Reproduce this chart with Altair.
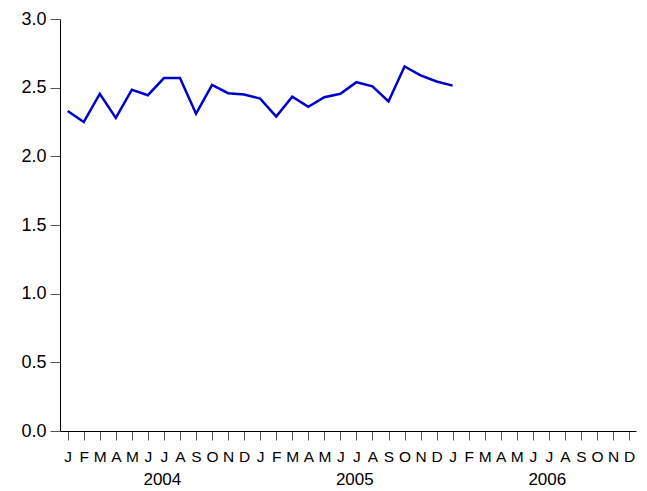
import altair as alt
import pandas as pd

months = ["J", "F", "M", "A", "M", "J", "J", "A", "S", "O", "N", "D"]
years = [2004, 2005, 2006]
values = [2.33, 2.25, 2.455, 2.28, 2.485, 2.445, 2.57, 2.57, 2.31, 2.52, 2.46, 2.45,
          2.42, 2.29, 2.435, 2.36, 2.43, 2.455, 2.54, 2.51, 2.40, 2.655, 2.59, 2.545, 2.515]

df = pd.DataFrame({"idx": list(range(len(values))), "value": values})
ydf = pd.DataFrame({"year": [str(y) for y in years], "idx": [12 * i + 5.9 for i in range(len(years))]})

W, H = 576, 412
label_expr = "[" + ",".join(f"'{m}'" for m in months) + "][round(datum.value) % 12]"

xscale = alt.Scale(domain=[-0.48, 35.43], nice=False, zero=False)
xaxis = alt.Axis(title=None, values=list(range(36)), labelExpr=label_expr,
                 grid=False, tickSize=9, tickColor="#555555", domainColor="#000000",
                 labelFont="Liberation Sans", labelFontSize=15.5, labelColor="#000000",
                 labelPadding=9, labelFlush=False, labelOverlap=False, labelBound=False)

line = alt.Chart(df).mark_line(color="#0000CC", strokeWidth=2.5).encode(
    x=alt.X("idx:Q", scale=xscale, axis=xaxis),
    y=alt.Y("value:Q", scale=alt.Scale(domain=[0, 3], nice=False),
            axis=alt.Axis(title=None, values=[0, 0.5, 1, 1.5, 2, 2.5, 3], format=".1f",
                          grid=False, tickSize=10, tickColor="#555555", domainColor="#000000",
                          labelFont="Liberation Sans", labelFontSize=18, labelColor="#000000",
                          labelPadding=4)),
)

yr = alt.Chart(ydf).mark_text(font="Liberation Sans", fontSize=17, color="#000000",
                              baseline="alphabetic", align="center", clip=False).encode(
    x=alt.X("idx:Q", scale=xscale, axis=xaxis),
    y=alt.value(H + 54),
    text="year:N",
)

chart = alt.layer(line, yr).properties(
    width=W, height=H,
    background="white",
    autosize=alt.AutoSizeParams(type="none"),
    padding={"left": 52, "top": 11, "right": 3, "bottom": 60},
).configure_view(strokeOpacity=0, strokeWidth=0)

chart.save("out.html", embed_options={"renderer": "svg", "actions": False})
